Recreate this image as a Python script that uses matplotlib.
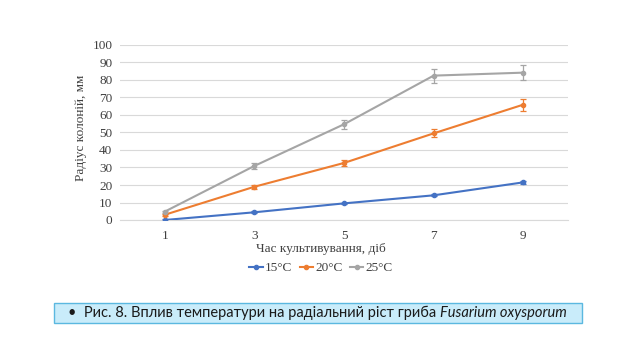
import matplotlib
matplotlib.use("Agg")
import matplotlib.pyplot as plt
from matplotlib.patches import Rectangle
from matplotlib.lines import Line2D

days = ["1", "3", "5", "7", "9"]
t15 = [0.0, 4.4, 9.5, 14.1, 21.5]
t20 = [3.0, 19.0, 32.6, 49.5, 65.9]
t25 = [4.8, 30.9, 54.7, 82.5, 84.2]
err15 = [0.3, 0.5, 0.5, 0.6, 0.8]
err20 = [0.5, 1.0, 1.6, 2.3, 3.4]
err25 = [0.6, 1.5, 2.6, 4.0, 4.4]
labels = ["15°C", "20°C", "25°C"]
colors = ["#4472C4", "#ED7D31", "#A5A5A5"]
yticks = list(range(0, 101, 10))

W, H = 640, 359
fig = plt.figure(figsize=(6.4, 3.59), dpi=100)
ax = fig.add_axes([120/W, 1-220/H, 448/W, 175/H])
serif = "Liberation Serif"
tc = "#404040"
x = list(range(len(days)))
handles = []
for vals, errs, lab, col in zip([t15, t20, t25], [err15, err20, err25], labels, colors):
    ax.errorbar(x, vals, yerr=errs, color=col, lw=1.5, marker="o", ms=3,
                ecolor=col, elinewidth=0.9, capsize=2, capthick=0.9, zorder=3)
    handles.append(Line2D([], [], color=col, lw=1.5, marker="o", ms=3, label=lab))

ax.set_xlim(-0.5, 4.5)
ax.set_ylim(0, 100)
ax.set_yticks(yticks)
ax.set_xticks(x)
ax.set_xticklabels(days)
ax.grid(axis="y", color="#d9d9d9", lw=0.8)
ax.set_axisbelow(True)
for s in ["top", "right", "left"]:
    ax.spines[s].set_visible(False)
ax.spines["bottom"].set_color("#d9d9d9")
ax.tick_params(length=0, labelsize=9.5)
ax.tick_params(axis="y", pad=5.5)
ax.tick_params(axis="x", pad=7)
for t in ax.get_xticklabels() + ax.get_yticklabels():
    t.set_fontfamily(serif)
    t.set_color(tc)

fig.text(81/W, 1-128/H, "Радіус колоній, мм", rotation=90, fontfamily=serif,
         fontsize=9.5, color=tc, ha="center", va="center")
fig.text(321/W, 1-249/H, "Час культивування, діб", fontfamily=serif,
         fontsize=9.5, color=tc, ha="center", va="center")
fig.legend(handles=handles, loc="center", bbox_to_anchor=(321/W, 1-268/H), ncol=3,
           frameon=False, prop={"family": serif, "size": 9.5}, handlelength=1.0,
           handletextpad=0.15, columnspacing=0.6, labelcolor=tc, borderpad=0)

# caption box
box = Rectangle((54/W, 1-323/H), (582-54)/W, 20/H, transform=fig.transFigure,
                facecolor="#c9ecfa", edgecolor="#5bb8e0", lw=1.0)
fig.patches.append(box)
fig.text(68/W, 1-313/H, "•  Рис. 8. Вплив температури на радіальний ріст гриба ",
         fontfamily="Lato", fontsize=10.5, va="center", ha="left", color="#1a1a1a")
fig.canvas.draw()
bb = fig.texts[-1].get_window_extent(fig.canvas.get_renderer())
fig.text(bb.x1/W, 1-313/H, "Fusarium oxysporum", fontfamily="Lato", style="italic",
         fontsize=10.5, va="center", ha="left", color="#1a1a1a")

fig.savefig("out.png", dpi=100)
